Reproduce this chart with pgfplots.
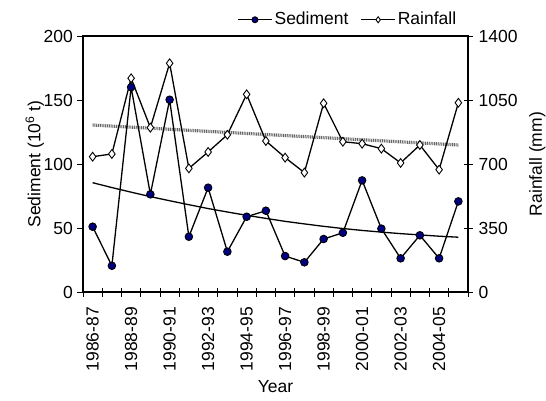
\documentclass[border=0pt]{standalone}
\usepackage{pgfplots}
\pgfplotsset{compat=1.18}
\usepackage{fontspec}
\setmainfont{Liberation Sans}
\definecolor{navy}{RGB}{0,0,128}
\begin{document}
\fontsize{17.5}{21}\selectfont
\begin{tikzpicture}
\pgfplotsset{
  common/.style={
    scale only axis, width=385pt, height=256pt,
    xmin=-0.5, xmax=19.5,
    font=\fontsize{17.5}{21}\selectfont,
    /pgf/number format/assume math mode=true,
    /pgf/number format/1000 sep={},
    axis line style={line width=1.2pt, black},
    tick style={line width=1pt, black},
  },
  sedstyle/.style={black, line width=1.3pt, mark=*, mark size=3.8pt, mark options={fill=navy, draw=black, line width=0.9pt}},
  rainstyle/.style={black, line width=1.3pt, mark=diamond*, mark size=4.4pt, mark options={fill=white, draw=black, line width=0.9pt}},
}
% Rainfall (right axis) + crossing x ticks
\begin{axis}[common, name=rain,
  ymin=0, ymax=1400,
  axis y line*=right, axis x line*=bottom,
  ytick={0,350,700,1050,1400},
  xtick={-0.5,0.5,...,19.5}, xticklabels={},
  xticklabel style={text opacity=0},
  tick align=center, major tick length=9pt,
  yticklabel style={inner sep=0pt, xshift=6pt},
  ylabel={Rainfall (mm)},
  ylabel style={at={(axis description cs:1.18,0.5)}, anchor=center},
]
\addplot[black!60, line width=3.2pt, dash pattern=on 1pt off 0.8pt] coordinates {(0,913) (19,804)};
\addplot[rainstyle] coordinates {
(0,740) (1,755) (2,1169) (3,899) (4,1251) (5,676) (6,766) (7,860) (8,1081) (9,826)
(10,735) (11,653) (12,1032) (13,822) (14,811) (15,784) (16,706) (17,804) (18,669) (19,1035)};
\end{axis}
% Sediment (left axis)
\begin{axis}[common,
  ymin=0, ymax=200,
  ytick={0,50,100,150,200}, ytick pos=left,
  xtick pos=bottom,
  xtick={0,2,...,18},
  xticklabels={1986-87,1988-89,1990-91,1992-93,1994-95,1996-97,1998-99,2000-01,2002-03,2004-05},
  xtick style={draw=none},
  xticklabel style={rotate=90, anchor=east, inner sep=0pt},
  xticklabel shift=9pt,
  tick align=outside, major tick length=6pt,
  yticklabel style={inner sep=0pt, xshift=-4pt},
  ylabel={Sediment (10\textsuperscript{6} t)},
  ylabel style={at={(axis description cs:-0.125,0.5)}, anchor=center},
  xlabel={Year},
  xlabel style={at={(axis description cs:0.5,-0.37)}, anchor=center},
  legend columns=2,
  legend style={at={(0.975,1.025)}, anchor=south east, draw=none, fill=none,
    inner sep=0pt, font=\fontsize{17.5}{21}\selectfont,
    /tikz/every even column/.append style={column sep=10pt}},
  legend image code/.code={\draw[mark repeat=2, mark phase=2, #1, mark size=3pt] plot coordinates {(0pt,0pt) (17pt,0pt) (34pt,0pt)};},
]
\addplot[black, line width=1.3pt, forget plot] coordinates {
(0,85.4) (1,81.6) (2,78.0) (3,74.5) (4,71.3) (5,68.2) (6,65.2) (7,62.5) (8,59.9) (9,57.5)
(10,55.2) (11,53.2) (12,51.3) (13,49.6) (14,48.1) (15,46.8) (16,45.6) (17,44.6) (18,43.6) (19,42.8)};
\addplot[sedstyle] coordinates {
(0,51) (1,20.5) (2,160) (3,76.3) (4,150.2) (5,43.2) (6,81.5) (7,31.5) (8,58.8) (9,63.5)
(10,28.1) (11,23.2) (12,41.4) (13,46.3) (14,87.2) (15,49.5) (16,26.3) (17,44.3) (18,26.3) (19,70.8)};
\addlegendentry{Sediment}
\addlegendimage{rainstyle}
\addlegendentry{Rainfall}
\end{axis}
\pgfresetboundingbox
\path ([shift={(-83pt,-108pt)}]rain.south west) rectangle ([shift={(78pt,36pt)}]rain.north east);
\end{tikzpicture}
\end{document}
